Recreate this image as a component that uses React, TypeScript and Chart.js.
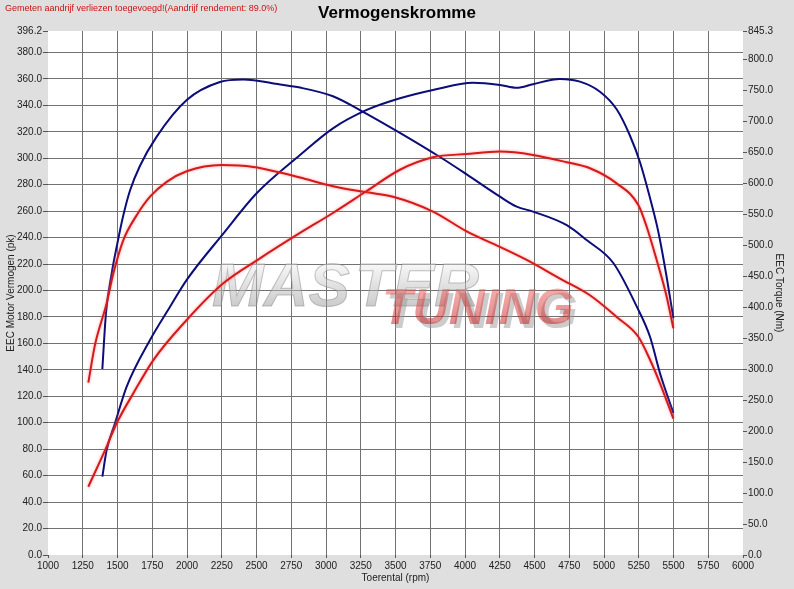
import React, { useEffect, useRef } from "react";
import { Chart, registerables } from "chart.js";

Chart.register(...registerables);

const chartTitle = "Vermogenskromme";
const noteText = "Gemeten aandrijf verliezen toegevoegd!(Aandrijf rendement: 89.0%)";
const xTitle = "Toerental (rpm)";
const yLeftTitle = "EEC Motor Vermogen (pk)";
const yRightTitle = "EEC Torque (Nm)";

const xMin = 1000;
const xMax = 6000;
const xStep = 250;
const leftMax = 396.2;
const leftStep = 20;
const rightMax = 845.3;
const rightStep = 50;

// Tuned (blue) power, pk
const bluePowerRpm = [1391, 1422, 1482, 1566, 1734, 1878, 1998, 2261, 2501, 2813, 3050, 3293, 3532, 3770, 4058, 4252, 4372, 4489, 4683, 4827, 4971, 5091, 5187, 5259, 5331, 5379, 5403, 5451, 5499];
const bluePower = [59.2, 79.4, 99.6, 127.3, 162.6, 187.7, 208, 243, 273.5, 302.4, 322.6, 336.5, 345.3, 351.6, 357, 355.4, 353.3, 356, 360, 357.9, 350.3, 337, 317, 297, 270, 250, 238, 210, 179];

// Tuned (blue) torque, Nm
const blueTorqueRpm = [1391, 1417, 1458, 1494, 1542, 1590, 1662, 1782, 1998, 2237, 2405, 2669, 2813, 3050, 3250, 3532, 3820, 4012, 4252, 4372, 4489, 4732, 4875, 5067, 5235, 5331, 5403, 5499];
const blueTorque = [300, 390, 454, 497, 548, 588, 628, 675, 734, 763, 767, 759, 754, 740, 717, 681, 642, 614, 578, 562, 554, 532, 508, 471, 401, 352, 293, 229];

// Stock (red) power, pk
const redPowerRpm = [1290, 1422, 1494, 1614, 1758, 1998, 2261, 2525, 2813, 3050, 3293, 3532, 3770, 4012, 4252, 4489, 4732, 4899, 5091, 5247, 5307, 5379, 5451, 5499];
const redPower = [51.6, 81.9, 99.6, 122.3, 147.4, 177.7, 205.4, 224.3, 243.5, 258.6, 275.2, 291.3, 300.7, 303.2, 305, 302.5, 297, 292.4, 281, 264.6, 248.2, 223, 195.3, 171.4];

// Stock (red) torque, Nm
const redTorqueRpm = [1290, 1338, 1422, 1470, 1542, 1638, 1734, 1854, 1998, 2250, 2477, 2669, 2813, 3050, 3293, 3482, 3770, 4012, 4252, 4444, 4683, 4899, 5091, 5247, 5331, 5403, 5499];
const redTorque = [278, 339, 406, 454, 508, 548, 578, 602, 619, 629, 626, 617, 609, 595, 585, 578, 554, 522, 497, 476, 446, 419, 384, 352, 315, 277, 220];

const blueColor = "#0c0c7a";
const redColor = "#d41a1a";
const tickFont = { family: "'Liberation Sans', Arial, sans-serif", size: 10 };

function pts(xs: number[], ys: number[]) {
  return xs.map((x, i) => ({ x, y: ys[i] }));
}

function stepTicks(max: number, step: number) {
  const out: { value: number }[] = [];
  for (let v = 0; v < max - 1e-9; v += step) out.push({ value: v });
  out.push({ value: max });
  return out;
}

const decorPlugin = {
  id: "decor",
  beforeDraw(chart: any) {
    const { ctx, chartArea: a, width, height } = chart;
    ctx.save();
    ctx.fillStyle = "#dfdfdf";
    ctx.fillRect(0, 0, width, height);
    ctx.fillStyle = "#ffffff";
    ctx.fillRect(a.left, a.top, a.right - a.left, a.bottom - a.top);
    ctx.restore();
  },
  beforeDatasetsDraw(chart: any) {
    const { ctx } = chart;
    ctx.save();
    ctx.globalAlpha = 0.5;
    ctx.font = "italic 900 62px 'Liberation Sans', Arial, sans-serif";
    ctx.textBaseline = "alphabetic";
    const g = ctx.createLinearGradient(0, 262, 0, 305);
    g.addColorStop(0, "#f4f4f4");
    g.addColorStop(1, "#9a9a9a");
    ctx.fillStyle = g;
    ctx.strokeStyle = "#888";
    ctx.lineWidth = 1;
    ctx.fillText("MAS", 212, 306);
    ctx.strokeText("MAS", 212, 306);
    ctx.fillText("TER", 355, 306);
    ctx.strokeText("TER", 355, 306);
    ctx.font = "italic 900 50px 'Liberation Sans', Arial, sans-serif";
    const r = ctx.createLinearGradient(0, 285, 0, 325);
    r.addColorStop(0, "#f06060");
    r.addColorStop(1, "#c01010");
    ctx.fillStyle = "#999";
    ctx.fillText("TUNING", 386, 328);
    ctx.fillStyle = r;
    ctx.fillText("TUNING", 382, 324);
    ctx.restore();
  },
  beforeDatasetDraw(chart: any, args: any) {
    const ctx = chart.ctx;
    ctx.save();
    if (args.index < 2) {
      ctx.shadowColor = "rgba(255,110,110,0.7)";
      ctx.shadowBlur = 3;
    }
  },
  afterDatasetDraw(chart: any) {
    chart.ctx.restore();
  },
  afterDraw(chart: any) {
    const { ctx, chartArea: a } = chart;
    ctx.save();
    ctx.fillStyle = "#d01010";
    ctx.font = "9px 'Liberation Sans', Arial, sans-serif";
    ctx.textAlign = "left";
    ctx.textBaseline = "middle";
    ctx.fillText(noteText, 5, 9);
    ctx.fillStyle = "#000";
    ctx.font = "bold 17px 'Liberation Sans', Arial, sans-serif";
    ctx.textAlign = "center";
    ctx.fillText(chartTitle, 397, 13);
    ctx.fillStyle = "#222";
    ctx.font = "10px 'Liberation Sans', Arial, sans-serif";
    ctx.fillText(xTitle, (a.left + a.right) / 2, 578);
    const cy = (a.top + a.bottom) / 2;
    ctx.save();
    ctx.translate(11, cy);
    ctx.rotate(-Math.PI / 2);
    ctx.fillText(yLeftTitle, 0, 0);
    ctx.restore();
    ctx.save();
    ctx.translate(779, cy);
    ctx.rotate(Math.PI / 2);
    ctx.fillText(yRightTitle, 0, 0);
    ctx.restore();
    ctx.restore();
  },
};

export default function App() {
  const ref = useRef<HTMLCanvasElement | null>(null);
  useEffect(() => {
    document.body.style.margin = "0";
    const canvas = ref.current;
    if (!canvas) return;
    const line = (data: any, color: string, axis: string) => ({
      data,
      borderColor: color,
      backgroundColor: color,
      borderWidth: 2,
      pointRadius: 0,
      tension: 0.4,
      cubicInterpolationMode: "monotone" as const,
      yAxisID: axis,
    });
    const chart = new Chart(canvas, {
      type: "line",
      data: {
        datasets: [
          line(pts(redPowerRpm, redPower), redColor, "y"),
          line(pts(redTorqueRpm, redTorque), redColor, "y2"),
          line(pts(bluePowerRpm, bluePower), blueColor, "y"),
          line(pts(blueTorqueRpm, blueTorque), blueColor, "y2"),
        ],
      },
      options: {
        animation: false,
        responsive: false,
        parsing: false as any,
        layout: { padding: { top: 31, left: 0, right: 0, bottom: 0 } },
        plugins: { legend: { display: false }, tooltip: { enabled: false }, title: { display: false } },
        scales: {
          x: {
            type: "linear",
            min: xMin,
            max: xMax,
            afterFit: (s: any) => { s.height = 34; },
            ticks: { stepSize: xStep, color: "#222", font: tickFont, padding: 2, maxRotation: 0, autoSkip: false, callback: (v: any) => String(v) },
            grid: {
              color: (c: any) => (c.tick && (c.tick.value === xMin || c.tick.value === xMax) ? "rgba(0,0,0,0)" : "#727272"),
              tickColor: "#555",
              tickLength: 3,
              lineWidth: 1,
            },
            border: { display: false },
          },
          y: {
            type: "linear",
            position: "left",
            min: 0,
            max: leftMax,
            afterFit: (s: any) => { s.width = 48; },
            afterBuildTicks: (s: any) => { s.ticks = stepTicks(leftMax, leftStep); },
            ticks: { color: "#222", font: tickFont, padding: 1, callback: (v: any) => Number(v).toFixed(1) },
            grid: {
              color: (c: any) => (c.tick && (c.tick.value === 0 || c.tick.value === leftMax) ? "rgba(0,0,0,0)" : "#727272"),
              tickColor: "#555",
              tickLength: 5,
              lineWidth: 1,
            },
            border: { display: false },
          },
          y2: {
            type: "linear",
            position: "right",
            min: 0,
            max: rightMax,
            afterFit: (s: any) => { s.width = 51; },
            afterBuildTicks: (s: any) => { s.ticks = stepTicks(rightMax, rightStep); },
            ticks: { color: "#222", font: tickFont, padding: 1, callback: (v: any) => Number(v).toFixed(1) },
            grid: { drawOnChartArea: false, tickColor: "#555", tickLength: 4 },
            border: { display: false },
          },
        },
      },
      plugins: [decorPlugin],
    });
    return () => chart.destroy();
  }, []);
  return (
    <div style={{ width: 794, height: 589 }}>
      <canvas ref={ref} width={794} height={589} style={{ display: "block", width: 794, height: 589 }} />
    </div>
  );
}
